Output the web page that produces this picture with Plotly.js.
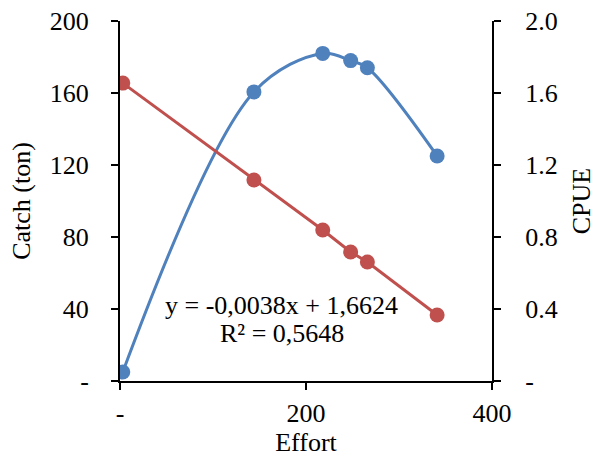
<!DOCTYPE html>
<html><head><meta charset="utf-8">
<script src="https://cdn.plot.ly/plotly-3.0.1.min.js"></script>
<style>body{margin:0;background:#fff}#c{width:596px;height:464px}</style>
</head><body><div id="c"></div>
<script>
const effort = [3, 144, 218, 248, 266, 341];
const catchTon = [5, 160.6, 182, 178, 174, 125];
const cpue = [1.655, 1.117, 0.839, 0.717, 0.661, 0.367];
const leftTicks = [0, 40, 80, 120, 160, 200];
const leftTickText = ['-', '40', '80', '120', '160', '200'];
const rightTicks = [0, 0.4, 0.8, 1.2, 1.6, 2.0];
const rightTickText = ['-', '0.4', '0.8', '1.2', '1.6', '2.0'];
const xTicks = [0, 200, 400];
const xTickText = ['-', '200', '400'];
const eqText = 'y = -0,0038x + 1,6624';
const r2Text = 'R² = 0,5648';

const font = {family: 'Liberation Serif, Times New Roman, serif', size: 26, color: '#000'};
const blue = '#4F81BD', red = '#C0504D';

const traces = [
  {x: effort, y: catchTon, type: 'scatter', mode: 'lines+markers', yaxis: 'y',
   line: {color: blue, width: 3, shape: 'spline', smoothing: 1.0},
   marker: {color: blue, size: 15}},
  {x: effort, y: cpue, type: 'scatter', mode: 'lines+markers', yaxis: 'y2',
   line: {color: red, width: 3},
   marker: {color: red, size: 15}}
];

const layout = {
  width: 596, height: 464,
  margin: {l: 120, r: 104, t: 21, b: 83},
  paper_bgcolor: '#fff', plot_bgcolor: '#fff',
  showlegend: false,
  font: font,
  xaxis: {range: [0, 400], tickvals: xTicks, ticktext: xTickText,
    showline: true, linecolor: '#000', linewidth: 2, ticks: 'outside', ticklen: 7, tickcolor: '#000', tickwidth: 2,
    showgrid: false, zeroline: false, tickfont: font, ticklabelstandoff: 1, automargin: false,
    title: {text: 'Effort', font: font, standoff: 6}},
  yaxis: {range: [0, 200], tickvals: leftTicks, ticktext: leftTickText,
    showline: true, linecolor: '#000', linewidth: 2, ticks: 'outside', ticklen: 7, tickcolor: '#000', tickwidth: 2,
    showgrid: false, zeroline: false, tickfont: font, ticklabelstandoff: 17, automargin: false,
    title: {text: 'Catch (ton)', font: font, standoff: 12}},
  yaxis2: {range: [0, 2], tickvals: rightTicks, ticktext: rightTickText, overlaying: 'y', side: 'right',
    showline: true, linecolor: '#000', linewidth: 2, ticks: 'outside', ticklen: 7, tickcolor: '#000', tickwidth: 2,
    showgrid: false, zeroline: false, tickfont: font, ticklabelstandoff: 19, automargin: false,
    title: {text: 'CPUE', font: font, standoff: 19}},
  annotations: [
    {x: 174, y: 0.164, xref: 'x', yref: 'paper', text: eqText, showarrow: false, font: font},
    {x: 174, y: 0.086, xref: 'x', yref: 'paper', text: r2Text, showarrow: false, font: font}
  ]
};
Plotly.newPlot('c', traces, layout, {displayModeBar: false, staticPlot: true});
</script></body></html>
